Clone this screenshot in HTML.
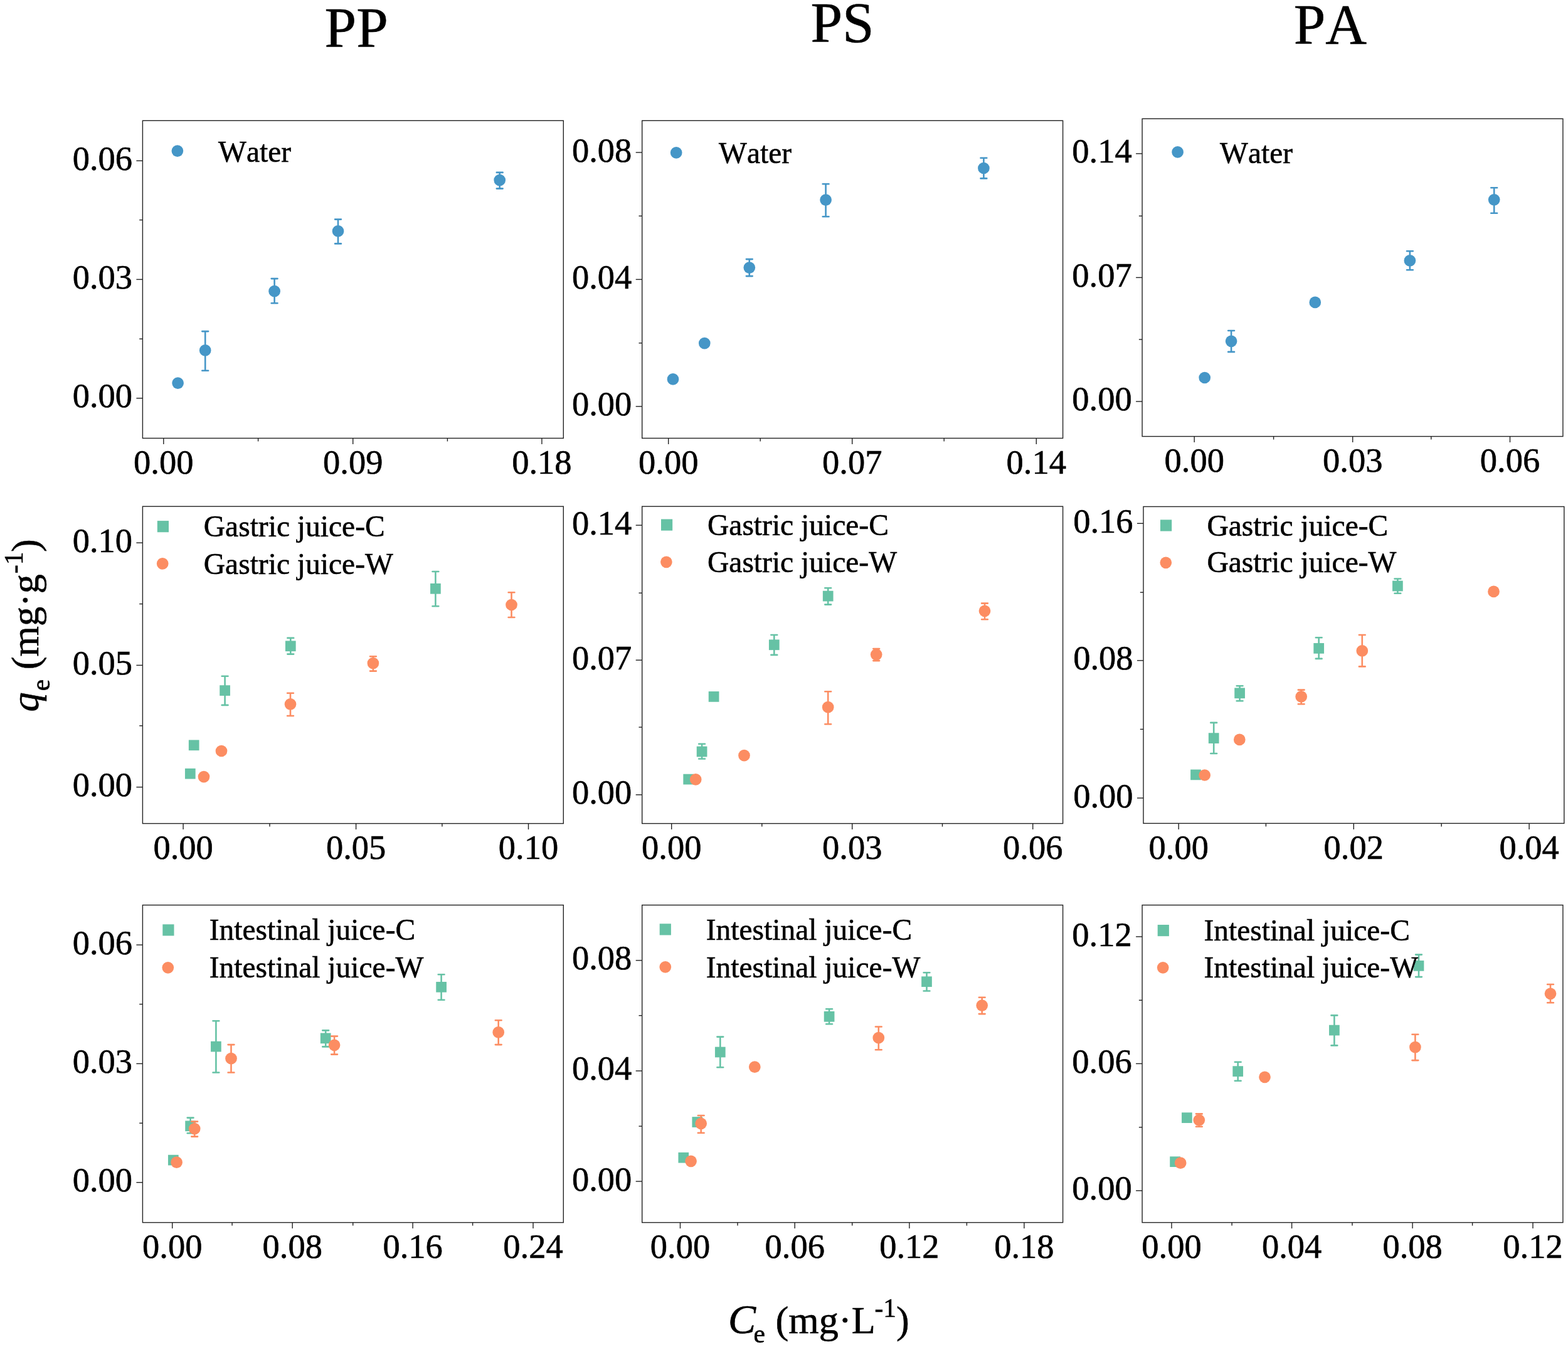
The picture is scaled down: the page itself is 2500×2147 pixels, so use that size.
<!DOCTYPE html>
<html><head><meta charset="utf-8"><title>Adsorption isotherms</title>
<style>html,body{margin:0;padding:0;background:#fff;}svg{display:block;}text{font-kerning:none;stroke:#000;stroke-width:0.6px;}</style>
</head><body>
<svg width="2500" height="2147" viewBox="0 0 2500 2147" font-family='"Liberation Serif","Times New Roman",serif' fill="#000"><g stroke="#222" stroke-width="1.4" fill="none"><line x1="217.40" y1="256.30" x2="227.40" y2="256.30"/><line x1="222.20" y1="350.60" x2="227.40" y2="350.60"/><line x1="217.40" y1="445.40" x2="227.40" y2="445.40"/><line x1="222.20" y1="540.20" x2="227.40" y2="540.20"/><line x1="217.40" y1="634.70" x2="227.40" y2="634.70"/><line x1="260.80" y1="698.50" x2="260.80" y2="708.00"/><line x1="411.60" y1="698.50" x2="411.60" y2="703.50"/><line x1="562.70" y1="698.50" x2="562.70" y2="708.00"/><line x1="713.40" y1="698.50" x2="713.40" y2="703.50"/><line x1="863.90" y1="698.50" x2="863.90" y2="708.00"/><rect x="227.40" y="192.30" width="670.90" height="506.20"/></g>
<g font-size="54.5"><text x="211.00" y="270.80" text-anchor="end">0.06</text><text x="211.00" y="459.90" text-anchor="end">0.03</text><text x="211.00" y="649.20" text-anchor="end">0.00</text><text x="260.80" y="754.80" text-anchor="middle">0.00</text><text x="562.70" y="754.80" text-anchor="middle">0.09</text><text x="863.90" y="754.80" text-anchor="middle">0.18</text></g>
<path d="M327.20 528.10V590.70M322.30 528.10H332.10M322.30 590.70H332.10M437.60 444.10V483.20M432.70 444.10H442.50M432.70 483.20H442.50M539.00 349.60V388.40M534.10 349.60H543.90M534.10 388.40H543.90M796.70 274.90V300.60M791.80 274.90H801.60M791.80 300.60H801.60" stroke="#4596c7" stroke-width="2.60" stroke-linecap="round" fill="none"/>
<circle cx="283.60" cy="610.60" r="9.35" fill="#4596c7"/>
<circle cx="327.20" cy="558.40" r="9.35" fill="#4596c7"/>
<circle cx="437.60" cy="464.20" r="9.35" fill="#4596c7"/>
<circle cx="539.00" cy="368.40" r="9.35" fill="#4596c7"/>
<circle cx="796.70" cy="287.10" r="9.35" fill="#4596c7"/>
<circle cx="282.90" cy="240.60" r="9.35" fill="#4596c7"/>
<text x="348.10" y="257.90" font-size="47.5">Water</text>
<g stroke="#222" stroke-width="1.4" fill="none"><line x1="1013.70" y1="243.00" x2="1023.70" y2="243.00"/><line x1="1018.50" y1="344.30" x2="1023.70" y2="344.30"/><line x1="1013.70" y1="445.40" x2="1023.70" y2="445.40"/><line x1="1018.50" y1="546.80" x2="1023.70" y2="546.80"/><line x1="1013.70" y1="647.80" x2="1023.70" y2="647.80"/><line x1="1065.70" y1="698.50" x2="1065.70" y2="708.00"/><line x1="1212.20" y1="698.50" x2="1212.20" y2="703.50"/><line x1="1358.70" y1="698.50" x2="1358.70" y2="708.00"/><line x1="1505.20" y1="698.50" x2="1505.20" y2="703.50"/><line x1="1652.30" y1="698.50" x2="1652.30" y2="708.00"/><rect x="1023.70" y="192.30" width="670.90" height="506.20"/></g>
<g font-size="54.5"><text x="1007.30" y="257.50" text-anchor="end">0.08</text><text x="1007.30" y="459.90" text-anchor="end">0.04</text><text x="1007.30" y="662.30" text-anchor="end">0.00</text><text x="1065.70" y="754.80" text-anchor="middle">0.00</text><text x="1358.70" y="754.80" text-anchor="middle">0.07</text><text x="1652.30" y="754.80" text-anchor="middle">0.14</text></g>
<path d="M1194.80 413.10V440.10M1189.90 413.10H1199.70M1189.90 440.10H1199.70M1316.60 293.30V345.30M1311.70 293.30H1321.50M1311.70 345.30H1321.50M1568.40 251.80V284.40M1563.50 251.80H1573.30M1563.50 284.40H1573.30" stroke="#4596c7" stroke-width="2.60" stroke-linecap="round" fill="none"/>
<circle cx="1073.00" cy="604.40" r="9.35" fill="#4596c7"/>
<circle cx="1123.30" cy="547.10" r="9.35" fill="#4596c7"/>
<circle cx="1194.80" cy="426.60" r="9.35" fill="#4596c7"/>
<circle cx="1316.60" cy="318.70" r="9.35" fill="#4596c7"/>
<circle cx="1568.40" cy="268.00" r="9.35" fill="#4596c7"/>
<circle cx="1078.20" cy="243.40" r="9.35" fill="#4596c7"/>
<text x="1146.10" y="260.10" font-size="47.5">Water</text>
<g stroke="#222" stroke-width="1.4" fill="none"><line x1="1811.10" y1="244.90" x2="1821.10" y2="244.90"/><line x1="1815.90" y1="344.30" x2="1821.10" y2="344.30"/><line x1="1811.10" y1="442.40" x2="1821.10" y2="442.40"/><line x1="1815.90" y1="541.10" x2="1821.10" y2="541.10"/><line x1="1811.10" y1="639.90" x2="1821.10" y2="639.90"/><line x1="1904.20" y1="695.60" x2="1904.20" y2="705.10"/><line x1="2030.60" y1="695.60" x2="2030.60" y2="700.60"/><line x1="2156.70" y1="695.60" x2="2156.70" y2="705.10"/><line x1="2281.80" y1="695.60" x2="2281.80" y2="700.60"/><line x1="2407.50" y1="695.60" x2="2407.50" y2="705.10"/><rect x="1821.10" y="189.30" width="670.80" height="506.30"/></g>
<g font-size="54.5"><text x="1804.70" y="259.40" text-anchor="end">0.14</text><text x="1804.70" y="456.90" text-anchor="end">0.07</text><text x="1804.70" y="654.40" text-anchor="end">0.00</text><text x="1904.20" y="751.90" text-anchor="middle">0.00</text><text x="2156.70" y="751.90" text-anchor="middle">0.03</text><text x="2407.50" y="751.90" text-anchor="middle">0.06</text></g>
<path d="M1963.10 527.00V560.90M1958.20 527.00H1968.00M1958.20 560.90H1968.00M2247.90 400.30V430.20M2243.00 400.30H2252.80M2243.00 430.20H2252.80M2382.20 299.20V339.70M2377.30 299.20H2387.10M2377.30 339.70H2387.10" stroke="#4596c7" stroke-width="2.60" stroke-linecap="round" fill="none"/>
<circle cx="1920.70" cy="602.00" r="9.35" fill="#4596c7"/>
<circle cx="1963.10" cy="543.80" r="9.35" fill="#4596c7"/>
<circle cx="2096.80" cy="481.90" r="9.35" fill="#4596c7"/>
<circle cx="2247.90" cy="415.40" r="9.35" fill="#4596c7"/>
<circle cx="2382.20" cy="318.30" r="9.35" fill="#4596c7"/>
<circle cx="1877.60" cy="242.40" r="9.35" fill="#4596c7"/>
<text x="1945.10" y="259.70" font-size="47.5">Water</text>
<g stroke="#222" stroke-width="1.4" fill="none"><line x1="217.40" y1="865.20" x2="227.40" y2="865.20"/><line x1="222.20" y1="962.60" x2="227.40" y2="962.60"/><line x1="217.40" y1="1060.40" x2="227.40" y2="1060.40"/><line x1="222.20" y1="1156.80" x2="227.40" y2="1156.80"/><line x1="217.40" y1="1254.60" x2="227.40" y2="1254.60"/><line x1="292.10" y1="1312.60" x2="292.10" y2="1322.10"/><line x1="430.00" y1="1312.60" x2="430.00" y2="1317.60"/><line x1="567.60" y1="1312.60" x2="567.60" y2="1322.10"/><line x1="704.90" y1="1312.60" x2="704.90" y2="1317.60"/><line x1="842.50" y1="1312.60" x2="842.50" y2="1322.10"/><rect x="227.40" y="807.20" width="670.90" height="505.40"/></g>
<g font-size="54.5"><text x="211.00" y="879.70" text-anchor="end">0.10</text><text x="211.00" y="1074.90" text-anchor="end">0.05</text><text x="211.00" y="1269.10" text-anchor="end">0.00</text><text x="292.10" y="1368.90" text-anchor="middle">0.00</text><text x="567.60" y="1368.90" text-anchor="middle">0.05</text><text x="842.50" y="1368.90" text-anchor="middle">0.10</text></g>
<path d="M358.60 1077.80V1123.90M353.70 1077.80H363.50M353.70 1123.90H363.50M463.30 1016.90V1042.60M458.40 1016.90H468.20M458.40 1042.60H468.20M694.40 911.00V966.30M689.50 911.00H699.30M689.50 966.30H699.30" stroke="#66c2a5" stroke-width="2.60" stroke-linecap="round" fill="none"/>
<rect x="294.95" y="1224.85" width="16.70" height="16.70" fill="#66c2a5"/>
<rect x="300.85" y="1179.45" width="16.70" height="16.70" fill="#66c2a5"/>
<rect x="350.25" y="1092.25" width="16.70" height="16.70" fill="#66c2a5"/>
<rect x="454.95" y="1021.45" width="16.70" height="16.70" fill="#66c2a5"/>
<rect x="686.05" y="929.95" width="16.70" height="16.70" fill="#66c2a5"/>
<path d="M463.00 1104.80V1141.00M458.10 1104.80H467.90M458.10 1141.00H467.90M594.90 1046.20V1069.60M590.00 1046.20H599.80M590.00 1069.60H599.80M815.50 944.20V984.00M810.60 944.20H820.40M810.60 984.00H820.40" stroke="#fc8d62" stroke-width="2.60" stroke-linecap="round" fill="none"/>
<circle cx="325.00" cy="1238.10" r="9.35" fill="#fc8d62"/>
<circle cx="353.00" cy="1197.00" r="9.35" fill="#fc8d62"/>
<circle cx="463.00" cy="1122.30" r="9.35" fill="#fc8d62"/>
<circle cx="594.90" cy="1057.10" r="9.35" fill="#fc8d62"/>
<circle cx="815.50" cy="964.00" r="9.35" fill="#fc8d62"/>
<rect x="250.80" y="830.10" width="18.20" height="18.20" fill="#66c2a5"/>
<text x="324.80" y="855.30" font-size="47.5">Gastric juice-C</text>
<circle cx="259.20" cy="898.40" r="9.35" fill="#fc8d62"/>
<text x="324.80" y="914.90" font-size="47.5">Gastric juice-W</text>
<g stroke="#222" stroke-width="1.4" fill="none"><line x1="1013.70" y1="837.20" x2="1023.70" y2="837.20"/><line x1="1018.50" y1="945.20" x2="1023.70" y2="945.20"/><line x1="1013.70" y1="1052.20" x2="1023.70" y2="1052.20"/><line x1="1018.50" y1="1159.10" x2="1023.70" y2="1159.10"/><line x1="1013.70" y1="1266.80" x2="1023.70" y2="1266.80"/><line x1="1070.70" y1="1312.60" x2="1070.70" y2="1322.10"/><line x1="1214.80" y1="1312.60" x2="1214.80" y2="1317.60"/><line x1="1358.70" y1="1312.60" x2="1358.70" y2="1322.10"/><line x1="1502.50" y1="1312.60" x2="1502.50" y2="1317.60"/><line x1="1646.70" y1="1312.60" x2="1646.70" y2="1322.10"/><rect x="1023.70" y="807.20" width="670.90" height="505.40"/></g>
<g font-size="54.5"><text x="1007.30" y="851.70" text-anchor="end">0.14</text><text x="1007.30" y="1066.70" text-anchor="end">0.07</text><text x="1007.30" y="1281.30" text-anchor="end">0.00</text><text x="1070.70" y="1368.90" text-anchor="middle">0.00</text><text x="1358.70" y="1368.90" text-anchor="middle">0.03</text><text x="1646.70" y="1368.90" text-anchor="middle">0.06</text></g>
<path d="M1119.10 1185.80V1209.50M1114.20 1185.80H1124.00M1114.20 1209.50H1124.00M1234.30 1012.00V1043.90M1229.40 1012.00H1239.20M1229.40 1043.90H1239.20M1320.20 937.30V963.60M1315.30 937.30H1325.10M1315.30 963.60H1325.10" stroke="#66c2a5" stroke-width="2.60" stroke-linecap="round" fill="none"/>
<rect x="1089.35" y="1233.75" width="16.70" height="16.70" fill="#66c2a5"/>
<rect x="1110.75" y="1189.65" width="16.70" height="16.70" fill="#66c2a5"/>
<rect x="1129.75" y="1102.05" width="16.70" height="16.70" fill="#66c2a5"/>
<rect x="1225.95" y="1019.45" width="16.70" height="16.70" fill="#66c2a5"/>
<rect x="1311.85" y="941.75" width="16.70" height="16.70" fill="#66c2a5"/>
<path d="M1320.20 1102.20V1154.20M1315.30 1102.20H1325.10M1315.30 1154.20H1325.10M1397.20 1034.10V1053.10M1392.30 1034.10H1402.10M1392.30 1053.10H1402.10M1570.00 961.60V987.30M1565.10 961.60H1574.90M1565.10 987.30H1574.90" stroke="#fc8d62" stroke-width="2.60" stroke-linecap="round" fill="none"/>
<circle cx="1109.20" cy="1242.40" r="9.35" fill="#fc8d62"/>
<circle cx="1186.50" cy="1204.20" r="9.35" fill="#fc8d62"/>
<circle cx="1320.20" cy="1127.20" r="9.35" fill="#fc8d62"/>
<circle cx="1397.20" cy="1043.30" r="9.35" fill="#fc8d62"/>
<circle cx="1570.00" cy="973.80" r="9.35" fill="#fc8d62"/>
<rect x="1054.00" y="827.50" width="18.20" height="18.20" fill="#66c2a5"/>
<text x="1128.00" y="853.00" font-size="47.5">Gastric juice-C</text>
<circle cx="1062.40" cy="895.80" r="9.35" fill="#fc8d62"/>
<text x="1128.00" y="911.60" font-size="47.5">Gastric juice-W</text>
<g stroke="#222" stroke-width="1.4" fill="none"><line x1="1813.00" y1="834.30" x2="1823.00" y2="834.30"/><line x1="1817.80" y1="944.20" x2="1823.00" y2="944.20"/><line x1="1813.00" y1="1052.80" x2="1823.00" y2="1052.80"/><line x1="1817.80" y1="1162.40" x2="1823.00" y2="1162.40"/><line x1="1813.00" y1="1272.00" x2="1823.00" y2="1272.00"/><line x1="1879.20" y1="1312.40" x2="1879.20" y2="1321.90"/><line x1="2018.40" y1="1312.40" x2="2018.40" y2="1317.40"/><line x1="2158.30" y1="1312.40" x2="2158.30" y2="1321.90"/><line x1="2298.20" y1="1312.40" x2="2298.20" y2="1317.40"/><line x1="2438.10" y1="1312.40" x2="2438.10" y2="1321.90"/><rect x="1823.00" y="807.50" width="670.80" height="504.90"/></g>
<g font-size="54.5"><text x="1806.60" y="848.80" text-anchor="end">0.16</text><text x="1806.60" y="1067.30" text-anchor="end">0.08</text><text x="1806.60" y="1286.50" text-anchor="end">0.00</text><text x="1879.20" y="1368.70" text-anchor="middle">0.00</text><text x="2158.30" y="1368.70" text-anchor="middle">0.02</text><text x="2438.10" y="1368.70" text-anchor="middle">0.04</text></g>
<path d="M1935.20 1151.90V1201.00M1930.30 1151.90H1940.10M1930.30 1201.00H1940.10M1976.60 1093.30V1117.30M1971.70 1093.30H1981.50M1971.70 1117.30H1981.50M2102.70 1016.30V1049.90M2097.80 1016.30H2107.60M2097.80 1049.90H2107.60M2228.40 922.50V945.80M2223.50 922.50H2233.30M2223.50 945.80H2233.30" stroke="#66c2a5" stroke-width="2.60" stroke-linecap="round" fill="none"/>
<rect x="1898.15" y="1226.55" width="16.70" height="16.70" fill="#66c2a5"/>
<rect x="1926.85" y="1168.25" width="16.70" height="16.70" fill="#66c2a5"/>
<rect x="1968.25" y="1096.45" width="16.70" height="16.70" fill="#66c2a5"/>
<rect x="2094.35" y="1025.05" width="16.70" height="16.70" fill="#66c2a5"/>
<rect x="2220.05" y="925.65" width="16.70" height="16.70" fill="#66c2a5"/>
<path d="M2074.70 1099.60V1122.30M2069.80 1099.60H2079.60M2069.80 1122.30H2079.60M2171.80 1012.00V1062.40M2166.90 1012.00H2176.70M2166.90 1062.40H2176.70" stroke="#fc8d62" stroke-width="2.60" stroke-linecap="round" fill="none"/>
<circle cx="1920.70" cy="1235.50" r="9.35" fill="#fc8d62"/>
<circle cx="1976.30" cy="1178.90" r="9.35" fill="#fc8d62"/>
<circle cx="2074.70" cy="1110.40" r="9.35" fill="#fc8d62"/>
<circle cx="2171.80" cy="1037.40" r="9.35" fill="#fc8d62"/>
<circle cx="2381.50" cy="942.90" r="9.35" fill="#fc8d62"/>
<rect x="1850.00" y="828.40" width="18.20" height="18.20" fill="#66c2a5"/>
<text x="1924.40" y="853.70" font-size="47.5">Gastric juice-C</text>
<circle cx="1858.80" cy="896.80" r="9.35" fill="#fc8d62"/>
<text x="1924.40" y="912.30" font-size="47.5">Gastric juice-W</text>
<g stroke="#222" stroke-width="1.4" fill="none"><line x1="217.40" y1="1506.10" x2="227.40" y2="1506.10"/><line x1="222.20" y1="1600.60" x2="227.40" y2="1600.60"/><line x1="217.40" y1="1695.40" x2="227.40" y2="1695.40"/><line x1="222.20" y1="1790.20" x2="227.40" y2="1790.20"/><line x1="217.40" y1="1884.70" x2="227.40" y2="1884.70"/><line x1="274.70" y1="1948.60" x2="274.70" y2="1958.10"/><line x1="370.10" y1="1948.60" x2="370.10" y2="1953.60"/><line x1="466.20" y1="1948.60" x2="466.20" y2="1958.10"/><line x1="562.70" y1="1948.60" x2="562.70" y2="1953.60"/><line x1="658.10" y1="1948.60" x2="658.10" y2="1958.10"/><line x1="753.60" y1="1948.60" x2="753.60" y2="1953.60"/><line x1="850.00" y1="1948.60" x2="850.00" y2="1958.10"/><rect x="227.40" y="1442.60" width="670.90" height="506.00"/></g>
<g font-size="54.5"><text x="211.00" y="1520.60" text-anchor="end">0.06</text><text x="211.00" y="1709.90" text-anchor="end">0.03</text><text x="211.00" y="1899.20" text-anchor="end">0.00</text><text x="274.70" y="2004.90" text-anchor="middle">0.00</text><text x="466.20" y="2004.90" text-anchor="middle">0.08</text><text x="658.10" y="2004.90" text-anchor="middle">0.16</text><text x="850.00" y="2004.90" text-anchor="middle">0.24</text></g>
<path d="M303.60 1781.60V1806.30M298.70 1781.60H308.50M298.70 1806.30H308.50M344.40 1627.30V1709.50M339.50 1627.30H349.30M339.50 1709.50H349.30M519.20 1642.40V1668.40M514.30 1642.40H524.10M514.30 1668.40H524.10M703.60 1553.20V1593.70M698.70 1553.20H708.50M698.70 1593.70H708.50" stroke="#66c2a5" stroke-width="2.60" stroke-linecap="round" fill="none"/>
<rect x="267.95" y="1840.75" width="16.70" height="16.70" fill="#66c2a5"/>
<rect x="295.25" y="1786.45" width="16.70" height="16.70" fill="#66c2a5"/>
<rect x="336.05" y="1659.75" width="16.70" height="16.70" fill="#66c2a5"/>
<rect x="510.85" y="1646.55" width="16.70" height="16.70" fill="#66c2a5"/>
<rect x="695.25" y="1564.95" width="16.70" height="16.70" fill="#66c2a5"/>
<path d="M310.20 1787.60V1811.60M305.30 1787.60H315.10M305.30 1811.60H315.10M368.50 1665.10V1709.50M363.60 1665.10H373.40M363.60 1709.50H373.40M533.10 1651.60V1680.60M528.20 1651.60H538.00M528.20 1680.60H538.00M794.70 1626.30V1665.10M789.80 1626.30H799.60M789.80 1665.10H799.60" stroke="#fc8d62" stroke-width="2.60" stroke-linecap="round" fill="none"/>
<circle cx="281.60" cy="1852.70" r="9.35" fill="#fc8d62"/>
<circle cx="310.20" cy="1799.10" r="9.35" fill="#fc8d62"/>
<circle cx="368.50" cy="1687.20" r="9.35" fill="#fc8d62"/>
<circle cx="533.10" cy="1665.80" r="9.35" fill="#fc8d62"/>
<circle cx="794.70" cy="1645.40" r="9.35" fill="#fc8d62"/>
<rect x="259.30" y="1473.30" width="18.20" height="18.20" fill="#66c2a5"/>
<text x="333.70" y="1497.90" font-size="47.5">Intestinal juice-C</text>
<circle cx="267.80" cy="1542.30" r="9.35" fill="#fc8d62"/>
<text x="333.70" y="1558.10" font-size="47.5">Intestinal juice-W</text>
<g stroke="#222" stroke-width="1.4" fill="none"><line x1="1013.70" y1="1530.80" x2="1023.70" y2="1530.80"/><line x1="1018.50" y1="1618.70" x2="1023.70" y2="1618.70"/><line x1="1013.70" y1="1706.90" x2="1023.70" y2="1706.90"/><line x1="1018.50" y1="1795.10" x2="1023.70" y2="1795.10"/><line x1="1013.70" y1="1883.00" x2="1023.70" y2="1883.00"/><line x1="1084.50" y1="1948.60" x2="1084.50" y2="1958.10"/><line x1="1176.00" y1="1948.60" x2="1176.00" y2="1953.60"/><line x1="1267.20" y1="1948.60" x2="1267.20" y2="1958.10"/><line x1="1358.70" y1="1948.60" x2="1358.70" y2="1953.60"/><line x1="1449.90" y1="1948.60" x2="1449.90" y2="1958.10"/><line x1="1541.40" y1="1948.60" x2="1541.40" y2="1953.60"/><line x1="1632.90" y1="1948.60" x2="1632.90" y2="1958.10"/><rect x="1023.70" y="1442.60" width="670.90" height="506.00"/></g>
<g font-size="54.5"><text x="1007.30" y="1545.30" text-anchor="end">0.08</text><text x="1007.30" y="1721.40" text-anchor="end">0.04</text><text x="1007.30" y="1897.50" text-anchor="end">0.00</text><text x="1084.50" y="2004.90" text-anchor="middle">0.00</text><text x="1267.20" y="2004.90" text-anchor="middle">0.06</text><text x="1449.90" y="2004.90" text-anchor="middle">0.12</text><text x="1632.90" y="2004.90" text-anchor="middle">0.18</text></g>
<path d="M1148.30 1652.60V1701.30M1143.40 1652.60H1153.20M1143.40 1701.30H1153.20M1322.10 1608.20V1632.20M1317.20 1608.20H1327.00M1317.20 1632.20H1327.00M1477.50 1550.20V1579.50M1472.60 1550.20H1482.40M1472.60 1579.50H1482.40" stroke="#66c2a5" stroke-width="2.60" stroke-linecap="round" fill="none"/>
<rect x="1081.45" y="1836.85" width="16.70" height="16.70" fill="#66c2a5"/>
<rect x="1103.45" y="1780.15" width="16.70" height="16.70" fill="#66c2a5"/>
<rect x="1139.95" y="1668.65" width="16.70" height="16.70" fill="#66c2a5"/>
<rect x="1313.75" y="1611.95" width="16.70" height="16.70" fill="#66c2a5"/>
<rect x="1469.15" y="1556.35" width="16.70" height="16.70" fill="#66c2a5"/>
<path d="M1117.70 1778.00V1805.70M1112.80 1778.00H1122.60M1112.80 1805.70H1122.60M1400.80 1636.50V1673.30M1395.90 1636.50H1405.70M1395.90 1673.30H1405.70M1565.70 1589.70V1616.10M1560.80 1589.70H1570.60M1560.80 1616.10H1570.60" stroke="#fc8d62" stroke-width="2.60" stroke-linecap="round" fill="none"/>
<circle cx="1101.60" cy="1850.80" r="9.35" fill="#fc8d62"/>
<circle cx="1117.70" cy="1790.80" r="9.35" fill="#fc8d62"/>
<circle cx="1203.30" cy="1700.70" r="9.35" fill="#fc8d62"/>
<circle cx="1400.80" cy="1654.20" r="9.35" fill="#fc8d62"/>
<circle cx="1565.70" cy="1602.60" r="9.35" fill="#fc8d62"/>
<rect x="1051.70" y="1472.30" width="18.20" height="18.20" fill="#66c2a5"/>
<text x="1125.70" y="1497.90" font-size="47.5">Intestinal juice-C</text>
<circle cx="1060.80" cy="1541.30" r="9.35" fill="#fc8d62"/>
<text x="1125.70" y="1557.80" font-size="47.5">Intestinal juice-W</text>
<g stroke="#222" stroke-width="1.4" fill="none"><line x1="1811.10" y1="1493.00" x2="1821.10" y2="1493.00"/><line x1="1815.90" y1="1594.30" x2="1821.10" y2="1594.30"/><line x1="1811.10" y1="1695.40" x2="1821.10" y2="1695.40"/><line x1="1815.90" y1="1796.80" x2="1821.10" y2="1796.80"/><line x1="1811.10" y1="1897.80" x2="1821.10" y2="1897.80"/><line x1="1868.00" y1="1948.60" x2="1868.00" y2="1958.10"/><line x1="1964.10" y1="1948.60" x2="1964.10" y2="1953.60"/><line x1="2059.60" y1="1948.60" x2="2059.60" y2="1958.10"/><line x1="2156.00" y1="1948.60" x2="2156.00" y2="1953.60"/><line x1="2252.10" y1="1948.60" x2="2252.10" y2="1958.10"/><line x1="2347.60" y1="1948.60" x2="2347.60" y2="1953.60"/><line x1="2444.00" y1="1948.60" x2="2444.00" y2="1958.10"/><rect x="1821.10" y="1442.60" width="670.80" height="506.00"/></g>
<g font-size="54.5"><text x="1804.70" y="1507.50" text-anchor="end">0.12</text><text x="1804.70" y="1709.90" text-anchor="end">0.06</text><text x="1804.70" y="1912.30" text-anchor="end">0.00</text><text x="1868.00" y="2004.90" text-anchor="middle">0.00</text><text x="2059.60" y="2004.90" text-anchor="middle">0.04</text><text x="2252.10" y="2004.90" text-anchor="middle">0.08</text><text x="2444.00" y="2004.90" text-anchor="middle">0.12</text></g>
<path d="M1973.70 1692.80V1722.70M1968.80 1692.80H1978.60M1968.80 1722.70H1978.60M2127.40 1618.40V1666.40M2122.50 1618.40H2132.30M2122.50 1666.40H2132.30M2262.00 1521.60V1557.10M2257.10 1521.60H2266.90M2257.10 1557.10H2266.90" stroke="#66c2a5" stroke-width="2.60" stroke-linecap="round" fill="none"/>
<rect x="1865.25" y="1843.35" width="16.70" height="16.70" fill="#66c2a5"/>
<rect x="1884.05" y="1773.25" width="16.70" height="16.70" fill="#66c2a5"/>
<rect x="1965.35" y="1699.25" width="16.70" height="16.70" fill="#66c2a5"/>
<rect x="2119.05" y="1633.75" width="16.70" height="16.70" fill="#66c2a5"/>
<rect x="2253.65" y="1531.05" width="16.70" height="16.70" fill="#66c2a5"/>
<path d="M1911.80 1775.40V1795.80M1906.90 1775.40H1916.70M1906.90 1795.80H1916.70M2256.40 1648.70V1690.10M2251.50 1648.70H2261.30M2251.50 1690.10H2261.30M2472.00 1569.00V1598.30M2467.10 1569.00H2476.90M2467.10 1598.30H2476.90" stroke="#fc8d62" stroke-width="2.60" stroke-linecap="round" fill="none"/>
<circle cx="1882.20" cy="1853.70" r="9.35" fill="#fc8d62"/>
<circle cx="1911.80" cy="1785.30" r="9.35" fill="#fc8d62"/>
<circle cx="2016.50" cy="1716.80" r="9.35" fill="#fc8d62"/>
<circle cx="2256.40" cy="1669.10" r="9.35" fill="#fc8d62"/>
<circle cx="2472.00" cy="1583.80" r="9.35" fill="#fc8d62"/>
<rect x="1845.70" y="1474.00" width="18.20" height="18.20" fill="#66c2a5"/>
<text x="1919.40" y="1498.90" font-size="47.5">Intestinal juice-C</text>
<circle cx="1854.20" cy="1542.30" r="9.35" fill="#fc8d62"/>
<text x="1919.40" y="1558.10" font-size="47.5">Intestinal juice-W</text>
<text x="568.2" y="74.8" font-size="91" text-anchor="middle">PP</text>
<text x="1343.0" y="66.6" font-size="91" text-anchor="middle">PS</text>
<text x="2120.8" y="70.3" font-size="91" text-anchor="middle">PA</text>
<text font-size="62.3"><tspan x="1160.9" y="2124.5" font-style="italic" font-size="66">C</tspan><tspan x="1201.6" y="2140.4" font-size="41.5">e</tspan><tspan x="1236.6" y="2124.5">(mg·L</tspan><tspan x="1394.5" y="2098.6" font-size="41.5">-1</tspan><tspan x="1428.9" y="2124.5">)</tspan></text>
<g transform="translate(60.7,0) rotate(-90)"><text font-size="62.3"><tspan x="-1134.6" y="0" font-style="italic">q</tspan><tspan x="-1101.2" y="18.3" font-size="41.5">e</tspan><tspan x="-1067.3" y="0">(mg·g</tspan><tspan x="-914.2" y="-24.7" font-size="41.5">-1</tspan><tspan x="-880.0" y="0">)</tspan></text></g></svg>
</body></html>
